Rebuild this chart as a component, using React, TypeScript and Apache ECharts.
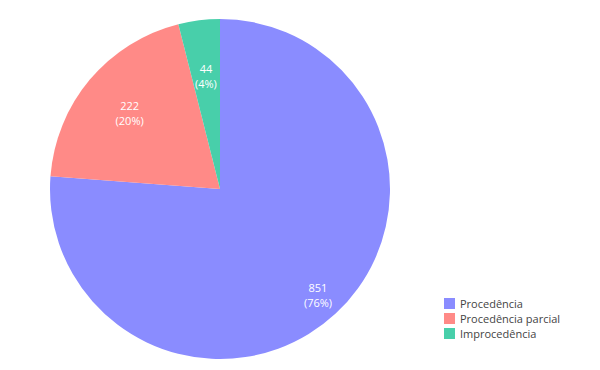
import React, { useEffect, useRef } from "react";
import * as echarts from "echarts";

const categories = ["Procedência", "Procedência parcial", "Improcedência"];
const values = [851, 222, 44];
const colors = ["#8a8cff", "#ff8a87", "#48cfaa"];
// outer radius of invisible helper pies whose "inside" label sits at half this radius
const labelRingRadii = [282, 230, 222];

export default function App() {
  const ref = useRef<HTMLDivElement>(null);
  useEffect(() => {
    if (!ref.current) return;
    const chart = echarts.init(ref.current, null, { renderer: "svg" });
    const data = categories.map((name, i) => ({
      name,
      value: values[i],
      itemStyle: { color: colors[i] },
    }));
    const labelSeries = labelRingRadii.map((R, k) => ({
      type: "pie",
      center: [212, 181],
      radius: [0, R],
      startAngle: 90,
      clockwise: true,
      silent: true,
      percentPrecision: 0,
      itemStyle: { color: "transparent" },
      label: {
        show: false,
        position: "inside",
        formatter: "{c}\n({d}%)",
        color: "#fff",
        fontSize: 11,
        lineHeight: 15,
        fontFamily: "Open Sans",
      },
      labelLine: { show: false },
      data: categories.map((name, i) => ({
        name,
        value: values[i],
        itemStyle: { color: "transparent" },
        label: { show: i === k },
      })),
    }));
    chart.setOption({
      animation: false,
      textStyle: { fontFamily: "Open Sans" },
      legend: {
        orient: "vertical",
        left: 431,
        top: 285,
        itemWidth: 11,
        itemHeight: 11,
        itemGap: 4,
        icon: "rect",
        textStyle: { fontSize: 11, color: "#444", fontFamily: "Open Sans" },
        data: categories.map((name, i) => ({ name, itemStyle: { color: colors[i] } })),
      },
      series: [
        {
          type: "pie",
          center: [212, 181],
          radius: [0, 170],
          startAngle: 90,
          clockwise: true,
          label: { show: false },
          labelLine: { show: false },
          silent: true,
          data,
        },
        ...labelSeries,
      ],
    });
    return () => chart.dispose();
  }, []);
  return <div ref={ref} style={{ width: 600, height: 370 }} />;
}
